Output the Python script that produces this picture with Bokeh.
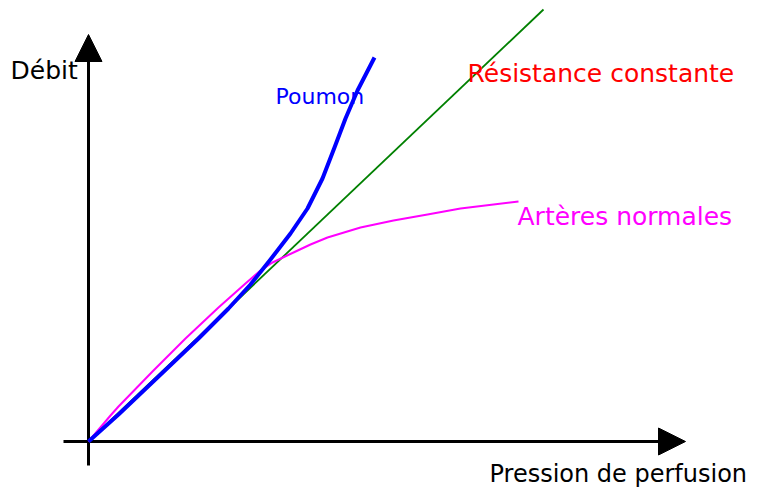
from bokeh.plotting import figure
from bokeh.models import Range1d, Arrow, NormalHead, Label
from bokeh.embed import file_html
from bokeh.resources import INLINE

# Qualitative curves: perfusion pressure vs flow
pressure_const = [0, 455]
flow_const = [0, 432]

pressure_lung = [0, 30, 70, 110, 140, 162, 182, 202, 219, 234, 246, 257, 269, 286]
flow_lung = [0, 27, 65, 103, 133, 157, 182, 208, 233, 263, 294, 323, 351, 384]

pressure_art = [0, 22, 30, 64, 97, 130, 157, 172, 184, 205, 222, 239, 272, 305, 339, 372, 430]
flow_art = [0, 26, 35, 70, 103, 134, 158, 171, 179, 189, 197, 204, 214, 221, 227, 233, 240]

FONT = "DejaVu Sans"

p = figure(width=757, height=495, output_backend="svg", toolbar_location=None,
           x_range=Range1d(-88, 669), y_range=Range1d(-54, 441),
           x_axis_location=None, y_axis_location=None, min_border=0)
p.grid.visible = False
p.outline_line_color = None
p.background_fill_color = "white"
p.border_fill_color = "white"

# axes with arrow heads
p.add_layout(Arrow(end=NormalHead(size=27, fill_color="black", line_color="black", line_width=1),
                   x_start=0, y_start=-24, x_end=0, y_end=407,
                   line_color="black", line_width=3, level="underlay"))
p.add_layout(Arrow(end=NormalHead(size=27, fill_color="black", line_color="black", line_width=1),
                   x_start=-25, y_start=0, x_end=597, y_end=0,
                   line_color="black", line_width=3, level="underlay"))

p.line(pressure_const, flow_const, line_color="#008000", line_width=1.8)
p.line(pressure_art, flow_art, line_color="#FF00FF", line_width=2, line_join="round")
p.line(pressure_lung, flow_lung, line_color="#0000FF", line_width=4, line_join="round")

labels = [
    ("Débit", -78, 371, "black", "25px"),
    ("Poumon", 187, 345, "#0000FF", "22px"),
    ("Résistance constante", 379, 368, "#FF0000", "25px"),
    ("Artères normales", 429, 225, "#FF00FF", "25px"),
    ("Pression de perfusion", 401, -32, "black", "24px"),
]
for t, x, y, c, fs in labels:
    p.add_layout(Label(x=x, y=y, text=t, text_color=c, text_font=FONT,
                       text_font_size=fs, text_align="left", text_baseline="alphabetic"))

open("out.html", "w").write(file_html(p, INLINE))
